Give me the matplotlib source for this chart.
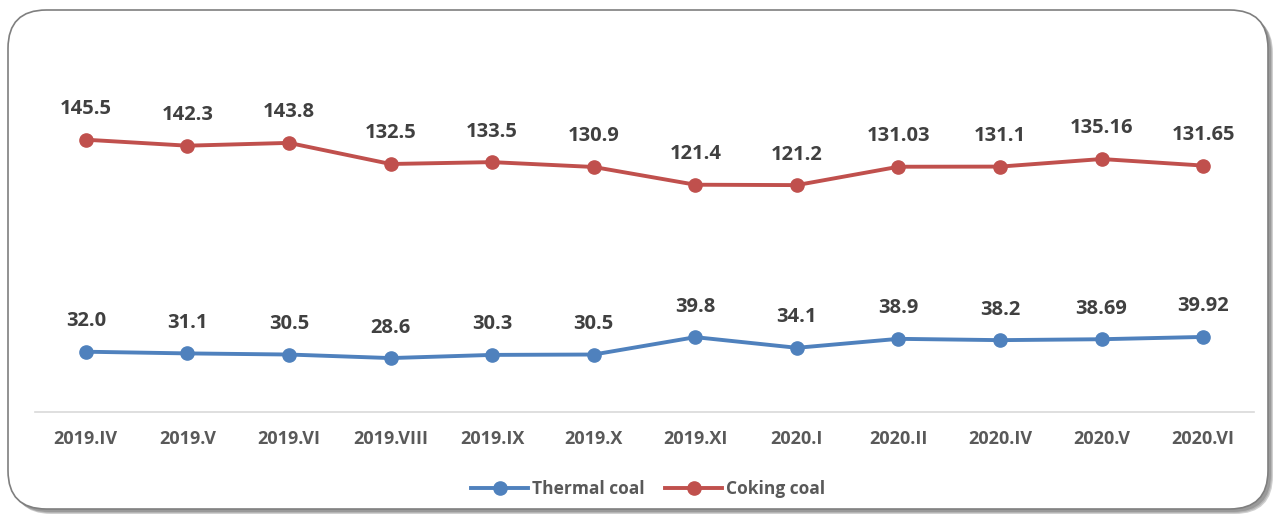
import matplotlib
matplotlib.use("Agg")
import matplotlib.pyplot as plt
from matplotlib.patches import FancyBboxPatch
from matplotlib.lines import Line2D

categories = ["2019.IV", "2019.V", "2019.VI", "2019.VIII", "2019.IX", "2019.X",
              "2019.XI", "2020.I", "2020.II", "2020.IV", "2020.V", "2020.VI"]
thermal = [32.0, 31.1, 30.5, 28.6, 30.3, 30.5, 39.8, 34.1, 38.9, 38.2, 38.69, 39.92]
thermal_labels = ["32.0", "31.1", "30.5", "28.6", "30.3", "30.5", "39.8", "34.1",
                  "38.9", "38.2", "38.69", "39.92"]
coking = [145.5, 142.3, 143.8, 132.5, 133.5, 130.9, 121.4, 121.2, 131.03, 131.1, 135.16, 131.65]
coking_labels = ["145.5", "142.3", "143.8", "132.5", "133.5", "130.9", "121.4", "121.2",
                 "131.03", "131.1", "135.16", "131.65"]

FONT = "Open Sans"
BLUE = "#4F81BD"
RED = "#C0504D"
TXT = "#404040"
TICK = "#595959"

W, H = 1278, 519
fig = plt.figure(figsize=(W / 100, H / 100), dpi=100)
fig.patch.set_facecolor("white")

# rounded border with shadow
for i, (dx, dy, c) in enumerate([(5, -5, "#d0d0d0"), (4, -4, "#b5b5b5"), (3, -3, "#9a9a9a")]):
    sh = FancyBboxPatch(((8 + dx) / W, (10 + dy) / H), (1260 / W), (499 / H),
                        boxstyle="round,pad=0,rounding_size=0.03",
                        transform=fig.transFigure, facecolor=c,
                        edgecolor="none", zorder=0, mutation_aspect=W / H)
    fig.patches.append(sh)
box = FancyBboxPatch((8 / W, 10 / H), (1260 / W), (499 / H),
                     boxstyle="round,pad=0,rounding_size=0.03",
                     transform=fig.transFigure, facecolor="white",
                     edgecolor="#7f7f7f", linewidth=1.2, zorder=1, mutation_aspect=W / H)
fig.patches.append(box)

ymax = 170
pxu = 1.868
ax_left, ax_right = 35, 1254
ax_bottom = 411.5
ax_top = ax_bottom - ymax * pxu
ax = fig.add_axes([ax_left / W, 1 - ax_bottom / H, (ax_right - ax_left) / W,
                   (ax_bottom - ax_top) / H])
ax.set_facecolor("none")
ax.set_zorder(2)

x = list(range(len(categories)))
ax.plot(x, thermal, color=BLUE, lw=2.8, marker="o", ms=9.5, solid_capstyle="round",
        label="Thermal coal")
ax.plot(x, coking, color=RED, lw=2.8, marker="o", ms=9.5, solid_capstyle="round",
        label="Coking coal")

for xi, v, t in zip(x, thermal, thermal_labels):
    ax.annotate(t, (xi, v), xytext=(0, 22), textcoords="offset points",
                ha="center", va="center", fontsize=14.5, fontweight="bold",
                color=TXT, family=FONT)
for xi, v, t in zip(x, coking, coking_labels):
    ax.annotate(t, (xi, v), xytext=(0, 22), textcoords="offset points",
                ha="center", va="center", fontsize=14.5, fontweight="bold",
                color=TXT, family=FONT)

ax.set_xlim(-0.5, len(categories) - 0.5)
ax.set_ylim(0, ymax)
ax.set_xticks(x)
ax.set_xticklabels(categories, fontsize=13, fontweight="bold", color=TICK, family=FONT)
ax.tick_params(axis="x", length=0, pad=13)
ax.set_yticks([])
for s in ["top", "left", "right"]:
    ax.spines[s].set_visible(False)
ax.spines["bottom"].set_color("#D9D9D9")
ax.spines["bottom"].set_linewidth(1.2)

handles = [Line2D([0], [0], color=BLUE, lw=2.8, marker="o", ms=9.5),
           Line2D([0], [0], color=RED, lw=2.8, marker="o", ms=9.5)]
leg = fig.legend(handles, ["Thermal coal", "Coking coal"], loc="center",
                 bbox_to_anchor=(648 / W, 1 - 489 / H), ncol=2, frameon=False,
                 handlelength=3.3, handletextpad=0.2, columnspacing=1.2,
                 prop={"family": FONT, "weight": "bold", "size": 12.5})
for t in leg.get_texts():
    t.set_color(TICK)

fig.savefig("out.png", dpi=100, facecolor="white")
